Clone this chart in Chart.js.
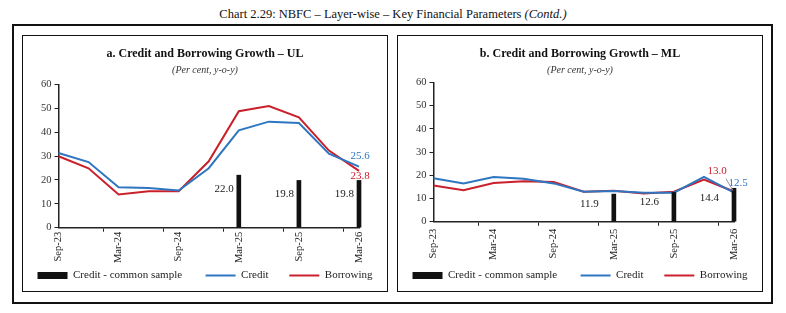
<!DOCTYPE html>
<html>
<head>
<meta charset="utf-8">
<script src="https://cdn.jsdelivr.net/npm/chart.js@4/dist/chart.umd.min.js"></script>
<style>
  body { margin: 0; width: 786px; height: 313px; background: #fff; position: relative; font-family: "Liberation Serif", serif; }
  #pageTitle { position: absolute; top: 7px; left: 0; width: 786px; text-align: center; font-size: 12.5px; color: #111; }
  #outer { position: absolute; left: 12px; top: 24px; width: 761px; height: 280px; border: 2px solid #111; box-sizing: border-box; }
  .panel { position: absolute; top: 35px; width: 366px; height: 257px; border: 1px solid #111; box-sizing: border-box; }
  .panel canvas { display: block; }
</style>
</head>
<body>
<div id="pageTitle">Chart 2.29: NBFC – Layer-wise – Key Financial Parameters <i>(Contd.)</i></div>
<div id="outer"></div>
<div class="panel" style="left:22px"><canvas id="chartUL" width="364" height="255"></canvas></div>
<div class="panel" style="left:397px"><canvas id="chartML" width="364" height="255"></canvas></div>
<script>
// quarters, Sep-23 .. Mar-26
var quarters = ['Sep-23','Dec-23','Mar-24','Jun-24','Sep-24','Dec-24','Mar-25','Jun-25','Sep-25','Dec-25','Mar-26'];
var yTicks = [0, 10, 20, 30, 40, 50, 60];

// a. UL
var ulCredit    = [31.3, 27.5, 16.9, 16.6, 15.6, 24.9, 40.8, 44.4, 43.8, 31.0, 25.6];
var ulBorrowing = [29.9, 24.9, 13.9, 15.3, 15.3, 27.8, 48.8, 50.9, 46.2, 32.3, 23.8];
var ulCommon    = [null, null, null, null, null, null, 22.0, null, 19.8, null, 19.8];

// b. ML
var mlCredit    = [18.7, 16.5, 19.3, 18.5, 16.5, 12.9, 13.2, 12.5, 12.5, 19.3, 12.5];
var mlBorrowing = [15.6, 13.6, 16.7, 17.4, 17.1, 12.9, 13.3, 12.2, 12.9, 18.1, 13.0];
var mlCommon    = [null, null, null, null, null, null, 11.9, null, 12.6, null, 14.4];

var BLUE = '#2f76c0';
var RED = '#c9202c';
var FONT = '"Liberation Serif", serif';

// labels: bars get theirs on the left, last points get offsets per chart
var valueLabels = {
  id: 'valueLabels',
  afterDatasetsDraw: function (chart, args, opts) {
    var ctx = chart.ctx;
    ctx.save();
    ctx.font = '11px ' + FONT;
    ctx.textBaseline = 'middle';
    // bars
    var barMeta = chart.getDatasetMeta(0);
    barMeta.data.forEach(function (el, i) {
      var v = chart.data.datasets[0].data[i];
      if (v == null) return;
      ctx.fillStyle = '#222';
      ctx.textAlign = 'right';
      ctx.fillText(v.toFixed(1), el.x - opts.barDx, el.y + opts.barDy);
    });
    // last points of the two lines
    [1, 2].forEach(function (d) {
      var meta = chart.getDatasetMeta(d);
      var n = meta.data.length - 1;
      var el = meta.data[n];
      var off = opts.last[d - 1];
      var tx = el.x + off[0], ty = el.y + off[1];
      if (off[2]) {
        ctx.strokeStyle = '#999';
        ctx.lineWidth = 1;
        ctx.beginPath();
        ctx.moveTo(tx - 12, ty - 4);
        ctx.lineTo(el.x - 1, el.y - 2);
        ctx.stroke();
      }
      ctx.fillStyle = chart.data.datasets[d].borderColor;
      ctx.textAlign = 'center';
      ctx.fillText(chart.data.datasets[d].data[n].toFixed(1), tx, ty);
    });
    ctx.restore();
  }
};

// wider gaps between legend items without the vertical padding growing
var legendGap = ['      ', '     ', ''];
function legendLabels(chart) {
  var items = Chart.defaults.plugins.legend.labels.generateLabels(chart);
  items.forEach(function (it, i) { it.text = it.text + legendGap[i]; });
  return items;
}

function makeChart(id, title, common, credit, borrowing, labelOpts, subPad, xPad) {
  return new Chart(document.getElementById(id), {
    type: 'bar',
    data: {
      labels: quarters,
      datasets: [
        { label: 'Credit - common sample', data: common, backgroundColor: '#111', borderWidth: 0,
          barThickness: 4, pointStyle: 'rect', clip: false },
        { type: 'line', label: 'Credit', data: credit, borderColor: BLUE, backgroundColor: BLUE,
          borderWidth: 2, pointRadius: 0, pointStyle: 'line', tension: 0 },
        { type: 'line', label: 'Borrowing', data: borrowing, borderColor: RED, backgroundColor: RED,
          borderWidth: 2, pointRadius: 0, pointStyle: 'line', tension: 0 }
      ]
    },
    options: {
      responsive: false,
      animation: false,
      layout: { padding: { left: 4, right: 4, top: 0, bottom: 0 } },
      plugins: {
        title: { display: true, text: title, color: '#111', font: { family: FONT, size: 12, weight: 'bold' },
                 padding: { top: 11, bottom: 2 } },
        subtitle: { display: true, text: '(Per cent, y-o-y)', color: '#333',
                    font: { family: FONT, size: 10, style: 'italic' }, padding: { top: 1, bottom: subPad } },
        legend: { position: 'bottom',
                  labels: { usePointStyle: true, pointStyleWidth: 30, boxHeight: 7, padding: 7,
                            color: '#222', font: { family: FONT, size: 11 }, generateLabels: legendLabels } },
        tooltip: { enabled: false },
        valueLabels: labelOpts
      },
      scales: {
        x: {
          offset: false,
          border: { color: '#222', width: 1.5 },
          grid: { drawOnChartArea: false, tickLength: 4,
                  tickColor: function (c) { return c.index % 2 ? 'rgba(0,0,0,0)' : '#222'; } },
          ticks: { autoSkip: false, minRotation: 90, maxRotation: 90, color: '#222', padding: xPad,
                   font: { family: FONT, size: 10.5 },
                   callback: function (v, i) { return i % 2 ? '' : quarters[i]; } }
        },
        y: {
          min: 0, max: 60,
          afterBuildTicks: function (s) { s.ticks = yTicks.map(function (v) { return { value: v }; }); },
          afterFit: function (s) { s.width += 11; },
          border: { color: '#222', width: 1.5 },
          grid: { drawOnChartArea: false, tickLength: 4, tickColor: '#222' },
          ticks: { color: '#333', padding: 3, font: { family: FONT, size: 10.5 } }
        },
        // empty strip on the right so the last quarter sits in from the panel edge
        yRight: {
          position: 'right', min: 0, max: 1,
          grid: { display: false }, border: { display: false }, ticks: { display: false },
          afterFit: function (s) { s.width = 24; }
        }
      }
    },
    plugins: [valueLabels]
  });
}

makeChart('chartUL', 'a. Credit and Borrowing Growth \u2013 UL', ulCommon, ulCredit, ulBorrowing,
  { barDx: 5, barDy: 14, last: [[1, -10], [1, 5]] }, 8, 0);
makeChart('chartML', 'b. Credit and Borrowing Growth \u2013 ML', mlCommon, mlCredit, mlBorrowing,
  { barDx: 15, barDy: 10, last: [[4, -10, true], [-17, -20]] }, 6, 3);
</script>
</body>
</html>
